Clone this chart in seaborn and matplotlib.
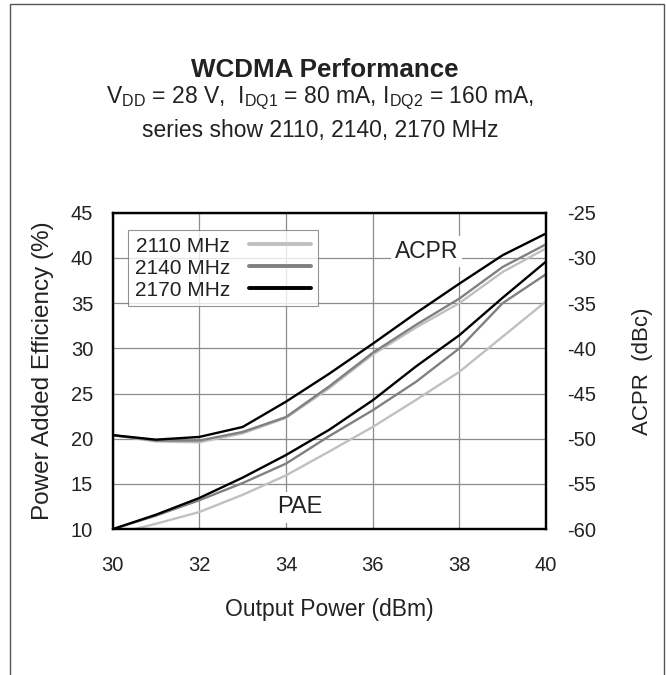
import matplotlib
matplotlib.use("Agg")
import matplotlib.pyplot as plt
from matplotlib.lines import Line2D
from matplotlib.patches import Rectangle
import numpy as np
import pandas as pd
import seaborn as sns

sns.set_theme(style="white")
plt.rcParams['font.family'] = ['Liberation Sans', 'DejaVu Sans']
plt.rcParams['mathtext.fontset'] = 'custom'
plt.rcParams['mathtext.rm'] = 'Liberation Sans'
plt.rcParams['mathtext.it'] = 'Liberation Sans'
plt.rcParams['axes.unicode_minus'] = False

# ---- data ----
pout = [30, 31, 32, 33, 34, 35, 36, 37, 38, 39, 40]
freqs = ["2110 MHz", "2140 MHz", "2170 MHz"]
pae_2110 = [9.4, 10.6, 11.9, 13.8, 15.95, 18.6, 21.3, 24.3, 27.4, 31.3, 35.2]
pae_2140 = [10.0, 11.5, 13.2, 15.1, 17.25, 20.3, 23.15, 26.3, 30.0, 35.0, 38.2]
pae_2170 = [10.0, 11.6, 13.45, 15.7, 18.2, 21.0, 24.25, 28.0, 31.45, 35.6, 39.6]
acpr_2110 = [-49.6, -50.3, -50.4, -49.4, -47.7, -44.4, -40.7, -37.7, -35.0, -31.55, -28.95]
acpr_2140 = [-49.6, -50.2, -50.2, -49.25, -47.6, -44.2, -40.5, -37.4, -34.5, -31.0, -28.5]
acpr_2170 = [-49.6, -50.1, -49.8, -48.7, -45.9, -42.8, -39.5, -36.1, -32.85, -29.7, -27.3]
colors = ["#c0c0c0", "#808080", "#000000"]

pae_df = pd.concat([
    pd.DataFrame({"Pout": pout, "val": v, "freq": f})
    for f, v in zip(freqs, [pae_2110, pae_2140, pae_2170])
])
acpr_df = pd.concat([
    pd.DataFrame({"Pout": pout, "val": v, "freq": f})
    for f, v in zip(freqs, [acpr_2110, acpr_2140, acpr_2170])
])
palette = dict(zip(freqs, colors))

fig = plt.figure(figsize=(6.66, 6.75), dpi=100)
ax = fig.add_axes([0.169, 0.216, 0.651, 0.469])
ax2 = ax.twinx()

sns.lineplot(data=pae_df, x="Pout", y="val", hue="freq", palette=palette,
             linewidth=1.7, legend=False, ax=ax)
sns.lineplot(data=acpr_df, x="Pout", y="val", hue="freq", palette=palette,
             linewidth=1.7, legend=False, ax=ax2)

ax.set_xlim(30, 40)
ax.set_ylim(10, 45)
ax2.set_ylim(-60, -25)
ax.set_xticks([30, 32, 34, 36, 38, 40])
ax.set_yticks([10, 15, 20, 25, 30, 35, 40, 45])
ax2.set_yticks([-60, -55, -50, -45, -40, -35, -30, -25])
ax.grid(True, color="#8c8c8c", linewidth=0.9)
ax2.grid(False)
ax.set_axisbelow(True)

tc = "#222222"
ax.tick_params(axis="both", length=0, labelsize=14.5, colors=tc)
ax.tick_params(axis="y", pad=14)
ax.tick_params(axis="x", pad=19)
ax2.tick_params(axis="y", length=0, labelsize=14.5, pad=15, colors=tc)

for a in (ax, ax2):
    for s in a.spines.values():
        s.set_color("black")
        s.set_linewidth(1.6)

ax.set_xlabel("Output Power (dBm)", fontsize=16.5, color=tc, labelpad=17)
ax.set_ylabel("Power Added Efficiency (%)", fontsize=17.5, color=tc, labelpad=12)
ax2.set_ylabel("ACPR  (dBc)", fontsize=16, color=tc, labelpad=26)

ax2.text(37.24, -29.3, "ACPR", fontsize=16.5, color=tc, ha="center", va="center",
         bbox=dict(facecolor="white", edgecolor="none", pad=3))
ax2.text(34.33, -57.6, "PAE", fontsize=17, color=tc, ha="center", va="center",
         bbox=dict(facecolor="white", edgecolor="none", pad=3))

handles = [Line2D([0], [0], color=c, linewidth=2.8) for c in colors]
leg = ax2.legend(handles, freqs, loc="upper left", bbox_to_anchor=(0.036, 0.945),
                 borderaxespad=0, markerfirst=False, fontsize=15, frameon=True,
                 fancybox=False, handlelength=3.0, handletextpad=0.9,
                 labelspacing=0.14, borderpad=0.32)
leg.get_frame().set_edgecolor("#777777")
leg.get_frame().set_linewidth(0.8)
for t in leg.get_texts():
    t.set_color(tc)

fig.text(0.4875, 0.896, "WCDMA Performance", fontsize=18.7, fontweight="bold",
         ha="center", va="center", color=tc)
fig.text(0.4805, 0.855,
         r"V$_{\rm DD}$ = 28 V,  I$_{\rm DQ1}$ = 80 mA, I$_{\rm DQ2}$ = 160 mA,",
         fontsize=16.5, ha="center", va="center", color=tc)
fig.text(0.4805, 0.807, "series show 2110, 2140, 2170 MHz",
         fontsize=16.5, ha="center", va="center", color=tc)

fig.patches.append(Rectangle((9.5 / 666, -0.01), (663.5 - 9.5) / 666, 1 - 3.5 / 675 + 0.01,
                             transform=fig.transFigure, fill=False,
                             edgecolor="#555555", linewidth=1.0))

fig.savefig("out.png", dpi=100, facecolor="white")
